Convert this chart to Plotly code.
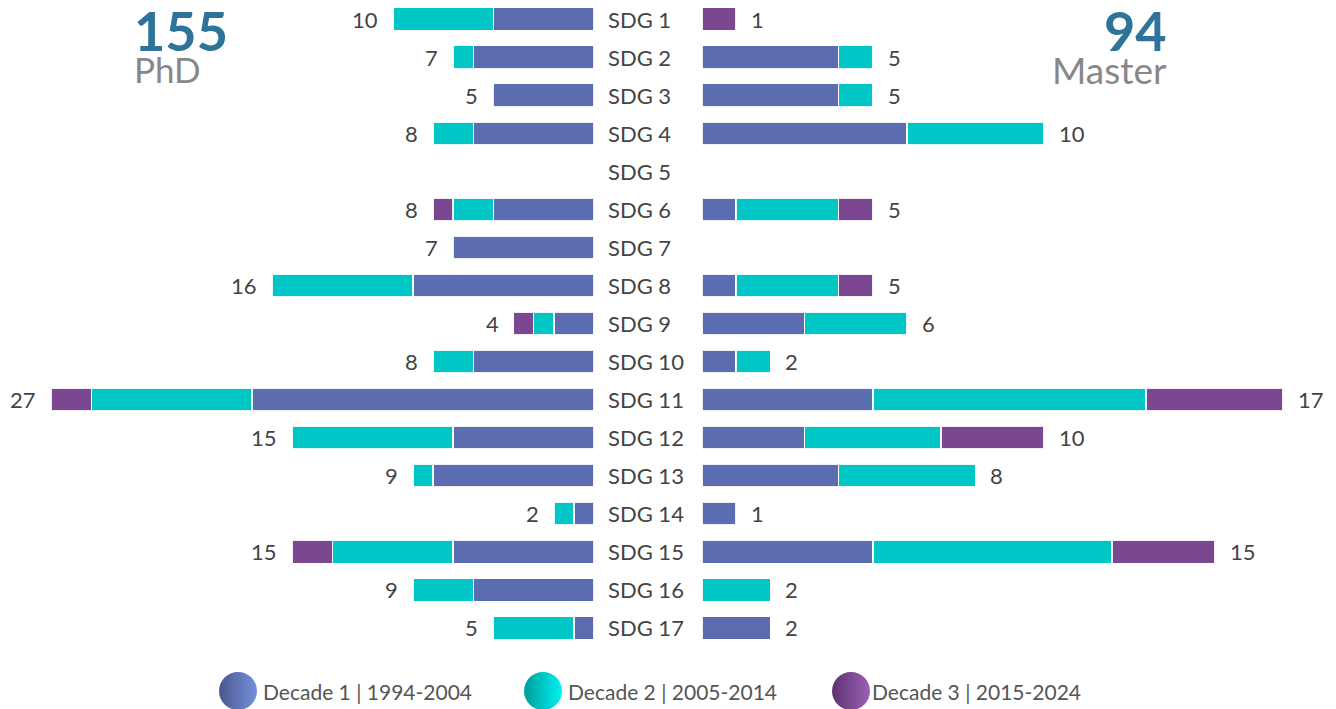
import plotly.graph_objects as go

# ---------------- data ----------------
sdgs = ["SDG 1", "SDG 2", "SDG 3", "SDG 4", "SDG 5", "SDG 6", "SDG 7", "SDG 8", "SDG 9",
        "SDG 10", "SDG 11", "SDG 12", "SDG 13", "SDG 14", "SDG 15", "SDG 16", "SDG 17"]

phd_d1 = [5, 6, 5, 6, 0, 5, 7, 9, 2, 6, 17, 7, 8, 1, 7, 6, 1]
phd_d2 = [5, 1, 0, 2, 0, 2, 0, 7, 1, 2, 8, 8, 1, 1, 6, 3, 4]
phd_d3 = [0, 0, 0, 0, 0, 1, 0, 0, 1, 0, 2, 0, 0, 0, 2, 0, 0]

master_d1 = [0, 4, 4, 6, 0, 1, 0, 1, 3, 1, 5, 3, 4, 1, 5, 0, 2]
master_d2 = [0, 1, 1, 4, 0, 3, 0, 3, 3, 1, 8, 4, 4, 0, 7, 2, 0]
master_d3 = [1, 0, 0, 0, 0, 1, 0, 1, 0, 0, 4, 3, 0, 0, 3, 0, 0]

decade_names = ["Decade 1 | 1994-2004", "Decade 2 | 2005-2014", "Decade 3 | 2015-2024"]
decade_colors = ["#5b6db0", "#00c6c6", "#7a4790"]
decade_dark = ["#4a5790", "#009e9c", "#5e3270"]
decade_light = ["#7590da", "#00f0f0", "#9d60b5"]

phd_total_label = "155"
master_total_label = "94"

FONT = "Lato"
OFF = 8                      # page body margin
W, H = 1336 - OFF, 709 - OFF


def px(x):      # reference pixel -> paper x
    return (x - OFF) / W


def py(y):      # reference pixel -> paper y
    return 1 - (y - OFF) / H


def nz(vals):
    return [v if v else None for v in vals]


fig = go.Figure()

phd = [phd_d1, phd_d2, phd_d3]
master = [master_d1, master_d2, master_d3]
bar_line = dict(color="rgba(255,255,255,0.9)", width=1.5)

for i in range(3):
    fig.add_trace(go.Bar(
        y=sdgs, x=nz(phd[i]), orientation="h", xaxis="x", yaxis="y",
        marker=dict(color=decade_colors[i], line=bar_line),
        showlegend=False, hoverinfo="x+y", name=decade_names[i]))
for i in range(3):
    fig.add_trace(go.Bar(
        y=sdgs, x=nz(master[i]), orientation="h", xaxis="x2", yaxis="y2",
        marker=dict(color=decade_colors[i], line=bar_line),
        showlegend=False, hoverinfo="x+y", name=decade_names[i]))

# legend markers on a helper axis (reference pixel coordinates)
leg_x = [238, 543, 851]
leg_y = 691
fig.add_trace(go.Scatter(
    x=leg_x, y=[leg_y] * 3, xaxis="x3", yaxis="y3", mode="markers",
    marker=dict(size=38, color=decade_dark, gradient=dict(type="horizontal", color=decade_light),
                line=dict(width=0)),
    showlegend=False, hoverinfo="skip", cliponaxis=False))

annotations = []
phd_tot = [a + b + c for a, b, c in zip(phd_d1, phd_d2, phd_d3)]
mas_tot = [a + b + c for a, b, c in zip(master_d1, master_d2, master_d3)]

lab_font = dict(family=FONT, size=22, color="#444444")
for s, t in zip(sdgs, phd_tot):
    annotations.append(dict(x=px(607), xref="paper", y=s, yref="y", text=s, showarrow=False,
                            xanchor="left", yanchor="middle", borderpad=0, height=21,
                            font=lab_font))
    if t:
        annotations.append(dict(x=t, xref="x", y=s, yref="y", text=str(t), showarrow=False,
                                xanchor="right", yanchor="middle", xshift=-14, borderpad=0,
                                height=21, font=lab_font))
for s, t in zip(sdgs, mas_tot):
    if t:
        annotations.append(dict(x=t, xref="x2", y=s, yref="y2", text=str(t), showarrow=False,
                                xanchor="left", yanchor="middle", xshift=14, borderpad=0,
                                height=21, font=lab_font))

annotations += [
    dict(x=px(133), xref="paper", y=py(30), yref="paper", text="<b>" + phd_total_label + "</b>",
         showarrow=False, xanchor="left", yanchor="middle", borderpad=0, height=42,
         font=dict(family=FONT, size=54, color="#2e7399")),
    dict(x=px(133), xref="paper", y=py(69), yref="paper", text="PhD",
         showarrow=False, xanchor="left", yanchor="middle", borderpad=0, height=32,
         font=dict(family=FONT, size=35, color="#888888")),
    dict(x=px(1168), xref="paper", y=py(30), yref="paper", text="<b>" + master_total_label + "</b>",
         showarrow=False, xanchor="right", yanchor="middle", borderpad=0, height=42,
         font=dict(family=FONT, size=54, color="#2e7399")),
    dict(x=px(1168), xref="paper", y=py(69), yref="paper", text="Master",
         showarrow=False, xanchor="right", yanchor="middle", borderpad=0, height=32,
         font=dict(family=FONT, size=37, color="#888888")),
]
leg_text_x = [262, 567, 871]
for name, lx in zip(decade_names, leg_text_x):
    annotations.append(dict(x=px(lx), xref="paper", y=py(leg_y), yref="paper", text=name,
                            showarrow=False, xanchor="left", yanchor="middle", borderpad=0,
                            font=dict(family=FONT, size=21, color="#555555")))

row_h = 38.06
plot_top, plot_bot = 0, 17 * row_h          # reference pixels
ydom = [py(plot_bot), min(1, py(plot_top))]

fig.update_layout(
    width=W, height=H,
    margin=dict(l=0, r=0, t=0, b=0),
    paper_bgcolor="white", plot_bgcolor="rgba(0,0,0,0)",
    barmode="stack", bargap=0.4,
    showlegend=False,
    xaxis=dict(domain=[0, px(594)], range=[(594 - OFF) / 20.11, 0], visible=False, fixedrange=True),
    xaxis2=dict(domain=[px(702), 1], range=[0, (1336 - 702) / 34.17], visible=False, fixedrange=True),
    yaxis=dict(domain=ydom, range=[16.5, -0.5 + (OFF / row_h)], categoryorder="array",
               categoryarray=sdgs, visible=False, anchor="x"),
    yaxis2=dict(domain=ydom, matches="y", categoryorder="array", categoryarray=sdgs,
                visible=False, anchor="x2"),
    xaxis3=dict(domain=[0, 1], range=[OFF, 1336], visible=False, anchor="y3", fixedrange=True),
    yaxis3=dict(domain=[0, py(650)], range=[709, 650], visible=False, anchor="x3", fixedrange=True),
    annotations=annotations,
    font=dict(family=FONT),
)

fig.write_html("out.html")
